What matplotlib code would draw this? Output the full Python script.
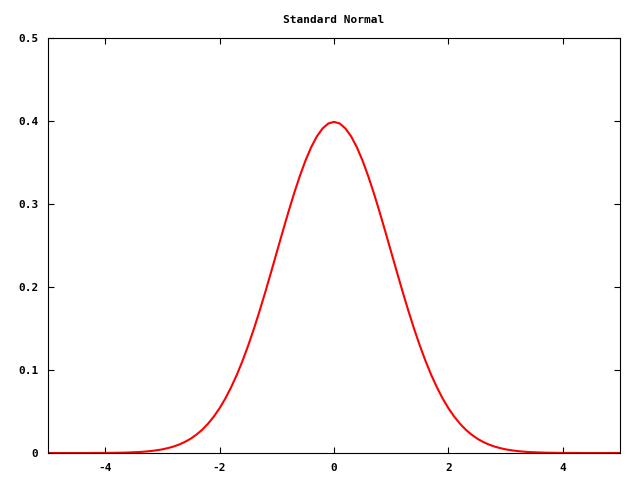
import matplotlib
matplotlib.use("Agg")
import matplotlib.pyplot as plt
import numpy as np

# standard normal density, every 0.1 from -5 to 5
x = np.linspace(-5, 5, 101)
density = [
    0.0000, 0.0000, 0.0000, 0.0000, 0.0000, 0.0000, 0.0000, 0.0000, 0.0001, 0.0001,
    0.0001, 0.0002, 0.0003, 0.0004, 0.0006, 0.0009, 0.0012, 0.0017, 0.0024, 0.0033,
    0.0044, 0.0060, 0.0079, 0.0104, 0.0136, 0.0175, 0.0224, 0.0283, 0.0355, 0.0440,
    0.0540, 0.0656, 0.0790, 0.0940, 0.1109, 0.1295, 0.1497, 0.1714, 0.1942, 0.2179,
    0.2420, 0.2661, 0.2897, 0.3123, 0.3332, 0.3521, 0.3683, 0.3814, 0.3910, 0.3970,
    0.3989,
    0.3970, 0.3910, 0.3814, 0.3683, 0.3521, 0.3332, 0.3123, 0.2897, 0.2661, 0.2420,
    0.2179, 0.1942, 0.1714, 0.1497, 0.1295, 0.1109, 0.0940, 0.0790, 0.0656, 0.0540,
    0.0440, 0.0355, 0.0283, 0.0224, 0.0175, 0.0136, 0.0104, 0.0079, 0.0060, 0.0044,
    0.0033, 0.0024, 0.0017, 0.0012, 0.0009, 0.0006, 0.0004, 0.0003, 0.0002, 0.0001,
    0.0001, 0.0001, 0.0000, 0.0000, 0.0000, 0.0000, 0.0000, 0.0000, 0.0000, 0.0000,
]

xticks = [-4, -2, 0, 2, 4]
yticks = [0, 0.1, 0.2, 0.3, 0.4, 0.5]
ylabels = ["0", "0.1", "0.2", "0.3", "0.4", "0.5"]

plt.rcParams['font.family'] = ['DejaVu Sans Mono']
plt.rcParams['font.weight'] = 'bold'
plt.rcParams['axes.unicode_minus'] = False

fig = plt.figure(figsize=(6.4, 4.8), dpi=100)
ax = fig.add_axes([0.075, 0.05625, 0.89375, 0.8646])

ax.plot(x, density, color='red', lw=1.5)
ax.set_xlim(-5, 5)
ax.set_ylim(0, 0.5)
ax.set_xticks(xticks)
ax.set_yticks(yticks)
ax.set_yticklabels(ylabels)
ax.tick_params(direction='in', top=True, right=True, length=4, width=0.8,
               pad=7, labelsize=8)
for s in ax.spines.values():
    s.set_linewidth(0.8)
ax.set_title("Standard Normal", fontsize=8, fontweight='bold', pad=11)

fig.savefig("out.png", dpi=100)
